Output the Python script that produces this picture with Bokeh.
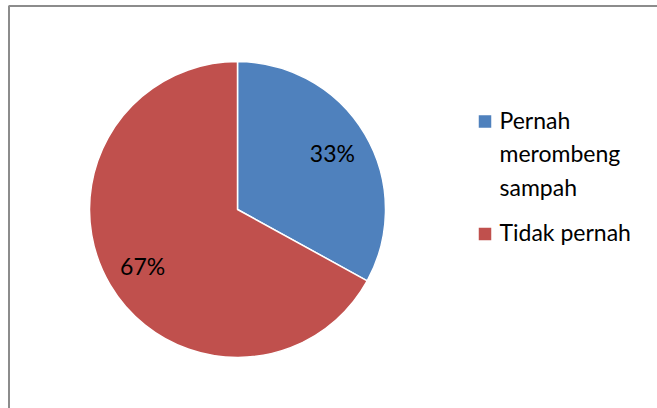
import math
from bokeh.plotting import figure
from bokeh.models import Range1d, ColumnDataSource
from bokeh.core.properties import value
from bokeh.embed import file_html
from bokeh.resources import INLINE

# ---- data ----
categories = ["Pernah merombeng sampah", "Tidak pernah"]
legend_labels = ["Pernah\nmerombeng\nsampah", "Tidak pernah"]
shares = [33, 67]
pct_labels = ["33%", "67%"]
colors = ["#4F81BD", "#C0504D"]

W, H = 657, 408
FONT = "Lato"
# page pixel coordinates: x = page x, y = 408 - page y
p = figure(width=W, height=H, output_backend="svg", toolbar_location=None,
           x_range=Range1d(0, W), y_range=Range1d(0, H),
           min_border=0, outline_line_color=None)
p.axis.visible = False
p.grid.visible = False
p.background_fill_color = "white"
p.border_fill_color = "white"

# chart-area border (top & left visible; right/bottom lie outside the window)
p.line(x=[8.5, 8.5, W + 5], y=[-5, 402.5, 402.5], line_color="#8C8C8C", line_width=2)

cx, cy, r = 237, 408 - 209, 148
total = float(sum(shares))
starts, ends, lx, ly = [], [], [], []
acc = 0.0
for s in shares:
    a0 = math.pi / 2 - 2 * math.pi * acc / total
    a1 = math.pi / 2 - 2 * math.pi * (acc + s) / total
    starts.append(a0)
    ends.append(a1)
    mid = (a0 + a1) / 2
    lx.append(cx + 0.745 * r * math.cos(mid))
    ly.append(cy + 0.745 * r * math.sin(mid))
    acc += s

src = ColumnDataSource(dict(cat=categories, start=starts, end=ends, color=colors,
                            lx=lx, ly=ly, lab=pct_labels))
p.wedge(x=cx, y=cy, radius=r, start_angle="start", end_angle="end",
        direction="clock", fill_color="color", line_color="white",
        line_width=1.5, source=src)
p.text(x="lx", y="ly", text="lab", source=src, text_align="center",
       text_baseline="middle", text_font=value(FONT), text_font_size="23px",
       text_color="#000000")

# legend
sq_y = [408 - 121, 408 - 233.5]
tx_y = [408 - 105, 408 - 217]
p.rect(x=[484.5, 484.5], y=sq_y, width=12.5, height=12.5, fill_color=colors,
       line_color=None)
p.text(x=[499, 499], y=tx_y, text=legend_labels, text_align="left",
       text_baseline="top", text_font=value(FONT), text_font_size="23px",
       text_line_height=1.2, text_color="#000000")

open("out.html", "w").write(file_html(p, INLINE))
